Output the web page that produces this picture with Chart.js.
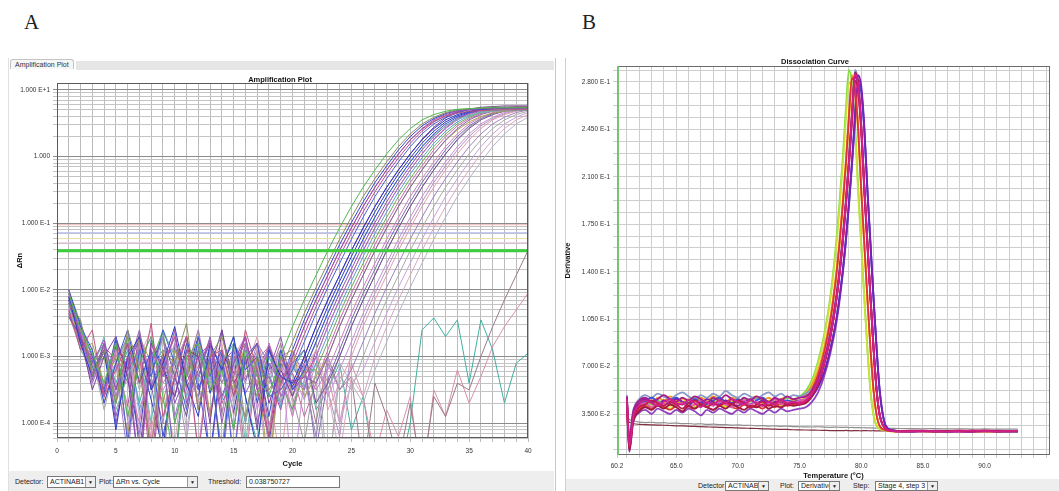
<!DOCTYPE html>
<html>
<head>
<meta charset="utf-8">
<script src="https://cdn.jsdelivr.net/npm/chart.js@4.4.1/dist/chart.umd.min.js"></script>
<style>
  body { margin:0; width:1059px; height:491px; overflow:hidden; background:#fff; position:relative;
         font-family:"Liberation Sans", Arial, sans-serif; }
  .letter { position:absolute; font-family:"Liberation Serif", serif; font-size:21px; line-height:21px; color:#222; }
  .win { position:absolute; background:#fff; }
  .bar { position:absolute; background:#e6e6e6; }
  .tab { position:absolute; font-size:7px; line-height:9px; padding:0 4px; border:1px solid #c4c4c4; border-bottom:none;
         border-radius:3px 3px 0 0; background:#f6f6f6; color:#333; }
  .ptitle { position:absolute; font-size:7.5px; font-weight:bold; line-height:9px; text-align:center; color:#111; }
  .ctl { position:absolute; font-size:7px; line-height:10px; color:#222; white-space:nowrap; }
  .box { position:absolute; border:1px solid #777; background:#fff; font-size:7px; padding-left:2px;
         box-sizing:border-box; white-space:nowrap; overflow:hidden; color:#222; }
  .btn { position:absolute; right:0; top:0; bottom:0; width:9px; border-left:1px solid #999; background:#eee;
         font-size:5px; text-align:center; }
  canvas { position:absolute; }
</style>
</head>
<body>

<div class="letter" style="left:24px;top:12px">A</div>
<div class="letter" style="left:582px;top:12px">B</div>

<!-- window A -->
<div class="win" style="left:8px;top:58px;width:546px;height:433px;border-left:1px solid #e0e0e0;border-right:1px solid #c8c8c8"></div>
<div class="bar" style="left:76px;top:61px;width:478px;height:9px"></div>
<div class="tab" style="left:10px;top:59px">Amplification Plot</div>
<div class="bar" style="left:9px;top:471px;width:545px;height:20px;background:#eeeeee"></div>

<!-- window B -->
<div class="win" style="left:565px;top:58px;width:494px;height:433px;border-left:1px solid #d0d0d0"></div>
<div class="bar" style="left:566px;top:479px;width:493px;height:12px;background:#eeeeee"></div>

<canvas id="ampChart" width="547" height="398" style="left:8px;top:72px"></canvas>
<canvas id="meltChart" width="496" height="424" style="left:563px;top:56px"></canvas>

<div class="ptitle" style="left:230px;top:75px;width:100px">Amplification Plot</div>
<div class="ptitle" style="left:765px;top:57px;width:100px">Dissociation Curve</div>

<!-- controls A -->
<div class="ctl" style="left:15px;top:477px">Detector:</div>
<div class="box" style="left:47px;top:476px;width:49px;height:12px;line-height:10px">ACTINAB1<span class="btn" style="line-height:10px">&#9660;</span></div>
<div class="ctl" style="left:99px;top:477px">Plot:</div>
<div class="box" style="left:113px;top:476px;width:85px;height:12px;line-height:10px">&Delta;Rn vs. Cycle<span class="btn" style="line-height:10px">&#9660;</span></div>
<div class="ctl" style="left:208px;top:477px">Threshold:</div>
<div class="box" style="left:246px;top:476px;width:94px;height:12px;line-height:10px">0.038750727</div>

<!-- controls B -->
<div class="ctl" style="left:698px;top:481px">Detector:</div>
<div class="box" style="left:725px;top:481px;width:44px;height:10px;line-height:8px">ACTINAB1<span class="btn" style="line-height:8px">&#9660;</span></div>
<div class="ctl" style="left:780px;top:481px">Plot:</div>
<div class="box" style="left:798px;top:481px;width:42px;height:10px;line-height:8px">Derivative<span class="btn" style="line-height:8px">&#9660;</span></div>
<div class="ctl" style="left:853px;top:481px">Step:</div>
<div class="box" style="left:875px;top:481px;width:63px;height:10px;line-height:8px">Stage 4, step 3<span class="btn" style="line-height:8px">&#9660;</span></div>

<script>
// ---------- A: amplification plot (log10 of delta Rn per cycle) ----------
const cycles = [1,2,3,4,5,6,7,8,9,10,11,12,13,14,15,16,17,18,19,20,21,22,23,24,25,26,27,28,29,30,31,32,33,34,35,36,37,38,39,40];
const cycleTickLabels = [0, 5, 10, 15, 20, 25, 30, 35, 40];
const ampDecades = [1e-4, 1e-3, 1e-2, 1e-1, 1, 10];
const thresholdValue = 0.038750727;
const otherThresholds = [0.095, 0.072, 0.059, 0.051];

const amp01 = [-2.05,-2.6,-2.95,-3.4,-2.8,-3.9,-3.1,-2.7,-3.6,-4.6,-3.0,-2.8,-3.5,-3.2,-4.1,-2.9,-3.3,-3.6,
  -3.0,-2.55,-2.15,-1.78,-1.41,-1.07,-0.75,-0.46,-0.2,0.04,0.25,0.42,0.55,0.63,0.68,0.71,0.72,0.73,0.74,0.74,0.74,0.74];
const amp02 = [-2.2,-2.45,-3.3,-2.9,-3.7,-2.6,-3.2,-4.4,-2.9,-3.1,-2.5,-3.8,-3.0,-2.7,-3.4,-3.9,-3.0,-3.5,
  -3.2,-2.78,-2.35,-1.96,-1.6,-1.24,-0.91,-0.6,-0.33,-0.08,0.15,0.34,0.49,0.59,0.66,0.7,0.715,0.725,0.73,0.73,0.73,0.73];
const amp03 = [-2.0,-2.7,-3.1,-2.75,-3.5,-3.0,-4.8,-2.9,-3.3,-2.6,-3.7,-3.2,-2.8,-4.0,-3.1,-2.7,-3.5,-3.3,-3.8,
  -3.0,-2.55,-2.15,-1.78,-1.41,-1.07,-0.75,-0.46,-0.2,0.04,0.25,0.42,0.55,0.63,0.68,0.71,0.72,0.73,0.73,0.73,0.73];
const amp04 = [-2.3,-2.9,-2.6,-3.6,-3.2,-2.8,-3.4,-2.5,-3.9,-3.3,-2.7,-4.5,-3.0,-2.9,-3.6,-2.6,-3.2,-4.2,-3.4,
  -3.0,-2.55,-2.15,-1.78,-1.41,-1.07,-0.75,-0.46,-0.2,0.04,0.25,0.41,0.53,0.61,0.65,0.68,0.69,0.7,0.7,0.7,0.7];
const amp05 = [-2.15,-2.5,-3.0,-3.5,-2.7,-4.3,-2.9,-3.3,-2.6,-3.1,-3.8,-2.7,-3.3,-2.9,-4.6,-3.0,-2.8,-3.6,-3.5,
  -3.2,-2.78,-2.35,-1.96,-1.6,-1.24,-0.91,-0.6,-0.33,-0.08,0.15,0.34,0.49,0.59,0.66,0.7,0.715,0.725,0.73,0.73,0.73];
const amp06 = [-2.1,-2.8,-3.3,-2.9,-4.1,-3.0,-2.7,-3.5,-3.1,-2.55,-3.4,-3.9,-2.8,-3.2,-2.7,-3.6,-4.4,-2.9,-3.3,-3.4,
  -3.0,-2.55,-2.15,-1.78,-1.41,-1.07,-0.75,-0.46,-0.2,0.04,0.25,0.42,0.55,0.63,0.68,0.71,0.72,0.73,0.73,0.73];
const amp07 = [-2.4,-2.7,-3.5,-3.0,-2.7,-3.3,-4.7,-2.8,-3.2,-3.6,-2.9,-3.0,-4.0,-2.6,-3.4,-3.1,-2.8,-3.7,-3.2,-3.6,
  -3.0,-2.55,-2.15,-1.78,-1.41,-1.07,-0.75,-0.46,-0.2,0.04,0.26,0.44,0.58,0.66,0.71,0.74,0.75,0.76,0.76,0.76];
const amp08 = [-2.0,-2.55,-2.9,-3.7,-3.1,-2.6,-3.4,-2.9,-4.2,-3.3,-2.7,-3.5,-3.0,-4.6,-2.8,-3.2,-3.0,-3.9,-2.9,-3.5,
  -3.2,-2.78,-2.35,-1.96,-1.6,-1.24,-0.91,-0.6,-0.33,-0.08,0.15,0.34,0.49,0.59,0.66,0.7,0.715,0.725,0.73,0.73];
const amp09 = [-2.25,-2.9,-3.2,-2.7,-3.8,-3.3,-2.9,-4.0,-2.6,-3.0,-3.6,-2.8,-3.4,-3.1,-2.7,-4.3,-3.0,-3.3,-3.7,-3.2,
  -3.2,-2.78,-2.35,-1.96,-1.6,-1.24,-0.91,-0.6,-0.33,-0.08,0.14,0.32,0.46,0.56,0.62,0.66,0.68,0.69,0.69,0.69];
const amp10 = [-2.1,-2.6,-3.4,-2.9,-3.1,-4.5,-2.8,-3.3,-2.7,-3.9,-3.2,-2.6,-3.5,-3.0,-4.1,-2.8,-3.3,-2.9,-3.6,-3.1,-3.5,
  -3.0,-2.55,-2.15,-1.78,-1.41,-1.07,-0.75,-0.46,-0.2,0.04,0.25,0.42,0.55,0.63,0.68,0.71,0.72,0.73,0.73];
const amp11 = [-2.35,-2.8,-3.0,-3.6,-2.8,-3.2,-2.9,-4.8,-3.1,-2.7,-3.4,-3.0,-2.8,-3.7,-3.3,-2.7,-3.5,-4.2,-3.0,-3.4,-3.3,
  -3.0,-2.55,-2.15,-1.78,-1.41,-1.07,-0.75,-0.46,-0.2,0.04,0.26,0.43,0.57,0.65,0.7,0.73,0.74,0.75,0.75];
const amp12 = [-2.0,-2.5,-3.2,-3.0,-3.7,-2.7,-3.4,-3.1,-2.6,-4.0,-3.3,-2.9,-3.2,-4.4,-2.8,-3.1,-3.6,-2.9,-3.4,-3.8,-3.2,
  -3.2,-2.78,-2.35,-1.96,-1.6,-1.24,-0.91,-0.6,-0.33,-0.08,0.15,0.34,0.49,0.59,0.66,0.7,0.715,0.725,0.73];
const amp13 = [-2.2,-2.7,-3.3,-2.8,-3.9,-3.2,-2.6,-3.5,-3.0,-4.6,-2.9,-3.3,-2.7,-3.6,-3.1,-2.8,-4.0,-3.2,-2.7,-3.5,-3.3,-3.4,
  -3.0,-2.55,-2.15,-1.78,-1.41,-1.07,-0.75,-0.46,-0.2,0.04,0.25,0.42,0.55,0.63,0.68,0.71,0.72,0.73];
const amp14 = [-2.1,-2.9,-2.8,-3.4,-3.0,-4.2,-2.7,-3.1,-3.7,-2.9,-3.3,-2.6,-3.9,-3.0,-3.5,-2.8,-3.2,-4.7,-3.0,-2.9,-3.6,-3.3,
  -3.0,-2.55,-2.15,-1.78,-1.41,-1.07,-0.75,-0.46,-0.2,0.04,0.24,0.4,0.52,0.6,0.65,0.68,0.69,0.7];
const amp15 = [-2.3,-2.6,-3.1,-3.6,-2.9,-3.3,-4.0,-2.8,-3.4,-3.1,-2.7,-3.8,-3.2,-2.9,-4.5,-3.0,-3.4,-2.8,-3.3,-3.9,-3.1,-3.5,
  -3.2,-2.78,-2.35,-1.96,-1.6,-1.24,-0.91,-0.6,-0.33,-0.08,0.15,0.34,0.49,0.59,0.66,0.7,0.715,0.725];
const amp16 = [-2.15,-2.7,-3.2,-2.9,-3.5,-2.8,-4.4,-3.1,-2.7,-3.3,-3.9,-2.9,-3.2,-2.6,-3.6,-3.0,-4.1,-2.8,-3.4,-3.1,-2.9,-3.7,-3.4,
  -3.0,-2.55,-2.15,-1.78,-1.41,-1.07,-0.75,-0.46,-0.2,0.04,0.25,0.42,0.55,0.63,0.68,0.71,0.72];
const amp17 = [-2.4,-2.8,-3.0,-3.7,-3.1,-2.7,-3.4,-3.0,-4.6,-2.9,-3.3,-2.8,-3.5,-3.2,-2.7,-4.0,-3.1,-3.4,-2.9,-3.6,-4.3,-3.2,-3.5,
  -3.0,-2.55,-2.15,-1.78,-1.41,-1.07,-0.75,-0.46,-0.2,0.04,0.26,0.44,0.57,0.66,0.71,0.74,0.75];
const amp18 = [-2.05,-2.6,-3.3,-3.0,-3.4,-4.1,-2.8,-3.2,-2.7,-3.6,-3.0,-4.4,-2.9,-3.3,-3.1,-2.7,-3.8,-3.2,-2.9,-4.9,-3.3,-3.0,-3.6,
  -3.2,-2.78,-2.35,-1.96,-1.6,-1.24,-0.91,-0.6,-0.33,-0.08,0.15,0.34,0.49,0.59,0.66,0.7,0.715];
const amp19 = [-2.3,-2.7,-3.1,-3.5,-2.8,-3.3,-3.0,-4.3,-2.9,-3.4,-2.7,-3.7,-3.1,-2.8,-3.9,-3.2,-2.7,-3.5,-4.6,-3.0,-3.3,-2.9,-3.8,-3.4,
  -3.0,-2.55,-2.15,-1.78,-1.41,-1.07,-0.75,-0.46,-0.2,0.04,0.25,0.42,0.55,0.63,0.68,0.71];
const amp20 = [-2.1,-2.8,-3.4,-2.9,-3.6,-3.1,-2.7,-3.3,-4.0,-2.8,-3.2,-3.5,-2.9,-4.7,-3.0,-3.4,-2.8,-3.1,-3.7,-2.9,-3.3,-4.2,-3.1,-3.5,
  -3.2,-2.78,-2.35,-1.96,-1.6,-1.24,-0.91,-0.6,-0.33,-0.08,0.15,0.34,0.49,0.59,0.66,0.7];
const amp21 = [-2.2,-2.6,-3.0,-3.8,-3.1,-2.8,-3.5,-2.9,-4.5,-3.2,-2.7,-3.4,-3.0,-3.9,-2.8,-3.3,-3.1,-4.1,-2.9,-3.6,-3.2,-2.8,-4.8,-3.3,-3.5,
  -3.0,-2.55,-2.15,-1.78,-1.41,-1.07,-0.75,-0.46,-0.2,0.04,0.25,0.42,0.55,0.63,0.68];
const amp22 = [-2.35,-2.9,-3.2,-3.0,-3.6,-2.7,-4.2,-3.1,-2.9,-3.4,-3.7,-2.8,-3.2,-4.4,-3.0,-2.7,-3.5,-3.3,-2.9,-3.9,-3.1,-3.4,-3.0,-4.0,-3.4,
  -3.2,-2.78,-2.35,-1.96,-1.6,-1.24,-0.91,-0.6,-0.33,-0.08,0.15,0.34,0.49,0.59,0.66];
const amp23 = [-2.0,-2.7,-3.1,-3.4,-2.9,-3.8,-3.0,-2.6,-3.5,-4.3,-2.9,-3.2,-2.8,-3.6,-3.1,-4.6,-2.8,-3.3,-3.0,-3.7,-3.2,-2.9,-3.5,-4.5,-3.3,-3.6,
  -3.0,-2.55,-2.15,-1.78,-1.41,-1.07,-0.75,-0.46,-0.2,0.04,0.25,0.42,0.55,0.63];
const amp24 = [-2.25,-2.8,-2.9,-3.5,-3.2,-2.7,-3.9,-3.1,-3.3,-2.8,-4.1,-3.0,-3.4,-2.9,-3.7,-3.1,-2.8,-4.4,-3.2,-3.0,-3.6,-3.3,-4.9,-3.1,-3.4,-3.7,
  -3.2,-2.78,-2.35,-1.96,-1.6,-1.24,-0.91,-0.6,-0.33,-0.08,0.15,0.34,0.49,0.59];
const amp25 = [-2.15,-2.75,-3.05,-3.5,-2.85,-3.3,-4.2,-2.75,-3.15,-3.6,-2.8,-3.4,-4.5,-2.95,-3.25,-2.7,-3.7,-3.1,-3.4,
  -2.9,-2.45,-2.05,-1.69,-1.32,-0.99,-0.68,-0.39,-0.14,0.1,0.3,0.46,0.57,0.645,0.69,0.713,0.722,0.73,0.73,0.73,0.73];
const amp26 = [-2.25,-2.55,-3.25,-2.85,-3.05,-3.75,-2.65,-4.6,-3.05,-2.85,-3.45,-3.15,-2.75,-3.85,-3.0,-3.35,-2.9,-4.05,-3.3,
  -3.1,-2.67,-2.25,-1.87,-1.5,-1.15,-0.83,-0.53,-0.26,-0.02,0.2,0.38,0.52,0.61,0.67,0.705,0.718,0.728,0.73,0.73,0.73];
const amp27 = [-2.05,-2.65,-3.15,-3.55,-2.75,-3.2,-2.95,-3.65,-4.4,-2.85,-3.3,-2.7,-3.55,-3.05,-3.85,-2.8,-3.2,-4.3,-3.1,-3.45,
  -3.1,-2.67,-2.25,-1.87,-1.5,-1.15,-0.83,-0.53,-0.26,-0.02,0.2,0.38,0.52,0.61,0.67,0.705,0.718,0.728,0.73,0.73];
const amp28 = [-2.3,-2.6,-3.35,-2.8,-4.0,-3.15,-2.75,-3.45,-2.95,-3.7,-3.25,-2.8,-4.55,-3.1,-2.9,-3.55,-3.2,-2.85,-3.6,-3.35,-3.5,
  -2.9,-2.45,-2.05,-1.69,-1.32,-0.99,-0.68,-0.39,-0.14,0.1,0.3,0.46,0.57,0.645,0.69,0.713,0.722,0.73,0.73];
const amp29 = [-2.1,-2.85,-2.95,-3.45,-3.1,-2.7,-3.8,-3.2,-2.9,-4.7,-3.0,-3.35,-2.75,-3.65,-3.1,-4.0,-2.95,-3.25,-3.75,-3.15,-3.45,
  -3.1,-2.67,-2.25,-1.87,-1.5,-1.15,-0.83,-0.53,-0.26,-0.02,0.2,0.38,0.52,0.61,0.67,0.705,0.718,0.728,0.73];
const amp30 = [-2.2,-2.7,-3.05,-3.6,-2.95,-3.4,-2.8,-4.3,-3.15,-2.7,-3.5,-3.0,-3.85,-2.9,-3.3,-4.6,-3.05,-2.85,-3.5,-3.25,-3.9,-3.4,
  -2.9,-2.45,-2.05,-1.69,-1.32,-0.99,-0.68,-0.39,-0.14,0.1,0.3,0.46,0.57,0.645,0.69,0.713,0.722,0.73];
const amp31 = [-2.35,-2.6,-3.2,-2.95,-3.7,-3.05,-2.75,-3.4,-4.5,-2.9,-3.25,-3.6,-2.8,-3.15,-4.1,-3.0,-3.45,-2.85,-3.3,-3.8,-3.1,-4.4,-3.35,
  -2.9,-2.45,-2.05,-1.69,-1.32,-0.99,-0.68,-0.39,-0.14,0.1,0.3,0.46,0.57,0.645,0.69,0.713,0.722];
const amp32 = [-2.1,-2.75,-3.1,-3.45,-2.85,-3.95,-3.05,-2.7,-3.5,-3.2,-4.25,-2.9,-3.35,-3.05,-3.7,-2.8,-3.4,-4.8,-3.0,-3.25,-3.65,-3.1,-3.5,-4.2,
  -2.9,-2.45,-2.05,-1.69,-1.32,-0.99,-0.68,-0.39,-0.14,0.1,0.3,0.46,0.57,0.645,0.69,0.713];
const ampLate1 = [-2.1,-2.7,-3.2,-2.9,-3.6,-3.0,-4.2,-2.8,-3.3,-3.1,-2.7,-3.8,-3.0,-3.4,-2.9,-4.5,-3.1,-3.3,-2.8,-3.6,
  -3.2,-4.0,-3.0,-3.5,-3.3,-4.7,-3.4,-3.9,-4.6,-3.7,-4.8,-3.6,-3.9,-3.4,-3.5,-3.0,-2.55,-2.15,-1.78,-1.41];
const ampLate2 = [-2.3,-2.6,-3.0,-3.5,-2.8,-3.3,-2.9,-4.1,-3.2,-2.7,-3.6,-3.0,-3.9,-2.9,-3.4,-3.1,-2.8,-4.4,-3.2,-3.5,
  -3.0,-3.7,-3.3,-4.0,-3.1,-3.6,-4.5,-3.8,-4.2,-3.6,-4.9,-3.5,-3.9,-3.2,-3.7,-3.3,-2.85,-2.55,-2.3,-2.05];
const ampTeal = [-2.2,-2.6,-3.1,-2.8,-3.4,-2.9,-3.7,-3.0,-2.7,-4.0,-3.2,-2.9,-3.5,-3.1,-2.8,-3.6,-4.3,-3.0,-3.4,-3.2,
  -2.9,-3.8,-3.5,-3.1,-4.1,-3.6,-4.7,-4.4,-4.8,-4.0,-2.6,-2.42,-2.7,-2.45,-3.4,-2.45,-2.9,-3.7,-3.1,-2.95];

const ampSeries = [amp01,amp02,amp03,amp04,amp05,amp06,amp07,amp08,amp09,amp10,amp11,amp12,
                   amp13,amp14,amp15,amp16,amp17,amp18,amp19,amp20,amp21,amp22,amp23,amp24,
                   amp25,amp26,amp27,amp28,amp29,amp30,amp31,amp32,ampLate1,ampLate2,ampTeal];
const ampColors = ['#4fb84f','#8c8c5a','#9b4fb5','#c2547f','#4a5fd0','#2a36c8','#7a3d9e','#3b4bd8','#6fb8b0',
                   '#a678c8','#c0509a','#6aaa5a','#8e5cb0','#a8a050','#d07cc0','#6e4e9e','#9a9a9a','#c48ed6',
                   '#e09cb0','#9e80c0','#aaaaaa','#c8a0d8','#d8a8c0','#b4b4c8',
                   '#3344cc','#b04ca0','#2c3ab8','#8850b8','#5a9ad0','#c86aa8','#7a6ab0','#b890c0',
                   '#9a7a8a','#d890a8','#40b0a0'];
const otherThresholdColors = ['#f2b4b4','#b4bcf2','#e8e0a4','#f0c4e2'];

// ---------- B: dissociation curves (derivative vs temperature) ----------
const meltTemps = [61.0,61.2,61.5,62,62.5,63,63.5,64,64.5,65,65.5,66,66.5,67,67.5,68,68.5,69,69.5,70,70.5,71,71.5,72,72.5,73,73.5,74,74.5,75,
  75.5,76,76.5,77,77.5,78,78.25,78.5,78.75,79,79.25,79.5,79.75,80,80.25,80.5,80.75,81,81.25,81.5,82,82.5,83,84,85,86,87,88,89,90,91,92,92.7];
const meltTempLabels = [65, 70, 75, 80, 85, 90];
const derivStep = 0.00875;

const melt01 = [0.046,0.014,0.034, 0.041,0.044,0.042,0.045,0.043,0.046,0.044,0.042,0.045,0.047,0.044,0.043,0.046,0.044,0.042,0.045,0.043,0.046,0.044,0.047,0.045,0.043,0.046,0.044,0.047,0.046,0.048,
  0.052,0.06,0.074,0.094,0.122,0.165, 0.193,0.224,0.26,0.289,0.279,0.248,0.202,0.161,0.121,0.083,0.052,0.034,0.026,0.024,
  0.023,0.0225,0.022, 0.022,0.0225,0.022,0.0215,0.022,0.0225,0.022,0.0218,0.022, 0.0222];
const melt02 = [0.044,0.010,0.031, 0.039,0.042,0.040,0.043,0.041,0.039,0.042,0.044,0.041,0.040,0.043,0.041,0.044,0.042,0.040,0.043,0.041,0.044,0.042,0.040,0.043,0.042,0.044,0.041,0.043,0.045,0.044,
  0.049,0.058,0.072,0.092,0.12,0.161, 0.188,0.218,0.252,0.28,0.272,0.243,0.198,0.158,0.119,0.082,0.052,0.034,0.026,0.024,
  0.0228,0.0222,0.022, 0.0222,0.0218,0.0225,0.022,0.0215,0.022,0.0224,0.022,0.0218, 0.022];
const melt03 = [0.045,0.012,0.033, 0.040,0.043,0.045,0.042,0.044,0.041,0.043,0.046,0.043,0.041,0.044,0.042,0.045,0.043,0.041,0.044,0.046,0.043,0.041,0.044,0.042,0.045,0.043,0.041,0.044,0.043,0.045,
  0.047,0.054,0.065,0.082,0.104,0.138, 0.16,0.187,0.216,0.25,0.278,0.27,0.241,0.197,0.158,0.119,0.082,0.052,0.034,0.026,
  0.023,0.022,0.022, 0.0222,0.022,0.0218,0.0224,0.022,0.0216,0.0222,0.022,0.0224, 0.022];
const melt04 = [0.047,0.016,0.035, 0.044,0.046,0.043,0.047,0.045,0.048,0.045,0.043,0.046,0.044,0.047,0.045,0.048,0.046,0.044,0.047,0.045,0.043,0.046,0.048,0.045,0.047,0.044,0.046,0.048,0.045,0.047,
  0.05,0.056,0.067,0.084,0.107,0.142, 0.165,0.192,0.222,0.257,0.285,0.277,0.247,0.201,0.161,0.12,0.083,0.052,0.034,0.026,
  0.0232,0.0224,0.022, 0.022,0.0225,0.0222,0.0218,0.0224,0.022,0.0226,0.0221,0.022, 0.0223];
const melt05 = [0.043,0.009,0.030, 0.038,0.041,0.039,0.042,0.040,0.038,0.041,0.043,0.040,0.039,0.042,0.040,0.038,0.041,0.043,0.040,0.039,0.042,0.040,0.041,0.039,0.042,0.040,0.043,0.041,0.042,0.044,
  0.046,0.053,0.064,0.081,0.104,0.139, 0.162,0.189,0.219,0.254,0.283,0.275,0.245,0.2,0.16,0.12,0.083,0.052,0.034,0.026,
  0.023,0.0225,0.0222, 0.0226,0.0222,0.022,0.0225,0.0228,0.0222,0.022,0.0225,0.0223, 0.0225];
const melt06 = [0.046,0.011,0.032, 0.042,0.045,0.043,0.041,0.044,0.046,0.043,0.042,0.045,0.043,0.040,0.044,0.042,0.045,0.043,0.046,0.044,0.042,0.045,0.043,0.041,0.044,0.042,0.045,0.043,0.044,0.043,
  0.045,0.05,0.059,0.073,0.093,0.121, 0.14,0.163,0.19,0.221,0.256,0.286,0.278,0.247,0.202,0.161,0.121,0.083,0.052,0.034,
  0.024,0.0226,0.0222, 0.0222,0.0226,0.0224,0.022,0.0225,0.0228,0.0223,0.0221,0.0226, 0.0224];
const melt07 = [0.044,0.013,0.031, 0.040,0.042,0.045,0.043,0.041,0.044,0.042,0.039,0.043,0.045,0.042,0.040,0.043,0.041,0.044,0.042,0.045,0.043,0.040,0.042,0.044,0.041,0.043,0.045,0.042,0.043,0.042,
  0.044,0.049,0.058,0.072,0.092,0.12, 0.139,0.161,0.188,0.218,0.252,0.281,0.273,0.244,0.199,0.159,0.12,0.083,0.052,0.034,
  0.0242,0.0228,0.0224, 0.0228,0.0224,0.0226,0.0222,0.0227,0.0224,0.0229,0.0225,0.0223, 0.0226];
const melt08 = [0.048,0.015,0.036, 0.045,0.047,0.044,0.046,0.049,0.046,0.044,0.047,0.045,0.048,0.046,0.043,0.047,0.045,0.049,0.046,0.044,0.047,0.045,0.048,0.046,0.044,0.047,0.045,0.048,0.046,0.047,
  0.048,0.052,0.061,0.075,0.095,0.123, 0.142,0.165,0.191,0.221,0.255,0.284,0.276,0.246,0.201,0.161,0.121,0.083,0.052,0.034,
  0.024,0.0225,0.0222, 0.022,0.0224,0.0221,0.0226,0.0222,0.0219,0.0224,0.0222,0.022, 0.0222];
const melt09 = [0.045,0.010,0.032, 0.041,0.043,0.040,0.044,0.042,0.045,0.041,0.043,0.040,0.042,0.045,0.043,0.041,0.044,0.042,0.040,0.043,0.045,0.042,0.044,0.041,0.043,0.046,0.042,0.044,0.043,0.045,
  0.046,0.05,0.058,0.072,0.092,0.12, 0.139,0.161,0.187,0.217,0.251,0.279,0.272,0.243,0.199,0.159,0.12,0.083,0.052,0.034,
  0.0238,0.0224,0.022, 0.0224,0.0221,0.0225,0.0223,0.0219,0.0224,0.0222,0.0226,0.0221, 0.0223];
const melt10 = [0.043,0.008,0.029, 0.037,0.040,0.038,0.041,0.039,0.042,0.040,0.037,0.041,0.039,0.042,0.040,0.038,0.041,0.039,0.042,0.040,0.038,0.041,0.040,0.042,0.039,0.041,0.040,0.042,0.041,0.042,
  0.043,0.048,0.057,0.072,0.092,0.121, 0.14,0.163,0.19,0.221,0.257,0.287,0.279,0.248,0.203,0.162,0.121,0.083,0.052,0.034,
  0.024,0.0226,0.0223, 0.0225,0.0228,0.0224,0.0226,0.0223,0.0227,0.0225,0.0222,0.0226, 0.0224];
const melt11 = [0.047,0.014,0.034, 0.043,0.046,0.044,0.042,0.045,0.043,0.046,0.044,0.041,0.045,0.043,0.046,0.044,0.042,0.045,0.043,0.041,0.044,0.046,0.043,0.045,0.042,0.044,0.046,0.043,0.044,0.043,
  0.044,0.048,0.055,0.066,0.083,0.106, 0.122,0.141,0.164,0.191,0.222,0.257,0.285,0.277,0.247,0.201,0.161,0.12,0.083,0.052,
  0.026,0.023,0.0222, 0.0222,0.0225,0.0221,0.0224,0.022,0.0223,0.0226,0.0221,0.0224, 0.0222];
const melt12 = [0.046,0.012,0.033, 0.042,0.044,0.047,0.044,0.042,0.045,0.047,0.044,0.043,0.046,0.044,0.042,0.045,0.047,0.044,0.043,0.046,0.044,0.042,0.045,0.047,0.044,0.046,0.043,0.045,0.044,0.045,
  0.045,0.048,0.055,0.066,0.083,0.106, 0.122,0.14,0.163,0.19,0.22,0.254,0.282,0.274,0.245,0.2,0.16,0.12,0.083,0.052,
  0.026,0.0232,0.0223, 0.0221,0.0224,0.0222,0.0219,0.0223,0.0221,0.0225,0.0222,0.022, 0.0221];
const melt13 = [0.042,0.007,0.028, 0.036,0.038,0.035,0.039,0.037,0.035,0.038,0.036,0.039,0.037,0.034,0.038,0.036,0.039,0.037,0.035,0.038,0.036,0.039,0.037,0.035,0.038,0.036,0.039,0.037,0.038,0.039,
  0.04,0.044,0.051,0.063,0.08,0.103, 0.119,0.138,0.161,0.188,0.218,0.251,0.279,0.272,0.243,0.199,0.159,0.119,0.082,0.051,
  0.026,0.0232,0.0224, 0.0226,0.0223,0.0227,0.0224,0.0221,0.0226,0.0224,0.0228,0.0223, 0.0225];
const melt14 = [0.049,0.017,0.037, 0.046,0.049,0.047,0.050,0.048,0.046,0.049,0.051,0.048,0.046,0.049,0.047,0.050,0.048,0.052,0.049,0.047,0.050,0.048,0.046,0.049,0.051,0.048,0.050,0.047,0.049,0.048,
  0.05,0.054,0.062,0.076,0.096,0.124, 0.143,0.166,0.193,0.224,0.259,0.289,0.28,0.249,0.203,0.162,0.121,0.083,0.052,0.034,
  0.024,0.0225,0.0222, 0.0222,0.022,0.0224,0.0221,0.0223,0.022,0.0222,0.0225,0.0221, 0.0222];
const meltNeg1 = [0.030,0.029,0.028, 0.0274,0.0272,0.0270,0.0268,0.0267,0.0265,0.0263,0.0262,0.0260,0.0258,0.0257,0.0255,0.0253,0.0252,0.0250,0.0249,0.0247,0.0246,0.0244,0.0243,0.0241,0.0240,0.0238,0.0237,0.0236,0.0234,0.0233,
  0.0232,0.0231,0.023,0.0229,0.0228,0.0228, 0.0228,0.0227,0.0229,0.0227,0.0226,0.0228,0.0227,0.0226,0.0228,0.0227,0.0226,0.0227,0.0225,0.0226,
  0.0225,0.0226,0.0224, 0.0224,0.0223,0.0225,0.0223,0.0222,0.0224,0.0223,0.0222,0.0223, 0.0222];
const meltNeg2 = [0.033,0.031,0.030, 0.0290,0.0287,0.0289,0.0284,0.0286,0.0281,0.0283,0.0279,0.0280,0.0276,0.0278,0.0273,0.0275,0.0271,0.0272,0.0268,0.0270,0.0266,0.0267,0.0263,0.0265,0.0261,0.0262,0.0259,0.0260,0.0257,0.0256,
  0.0255,0.0254,0.0256,0.0253,0.0252,0.0253, 0.0252,0.0251,0.0253,0.025,0.0251,0.0249,0.025,0.0248,0.0249,0.0247,0.0248,0.0246,0.0247,0.0245,
  0.0245,0.0244,0.0243, 0.0242,0.0241,0.0242,0.024,0.0241,0.0239,0.024,0.0239,0.0238, 0.0238];

// first in list is drawn on top: magenta/red wells dominate, green/yellow wells sit beneath
const meltSeries = [melt06,melt07,melt10,melt08,melt09,melt05,melt11,melt12,melt13,melt14,melt04,melt03,melt02,melt01,meltNeg1,meltNeg2];
const meltColors = ['#d0208c','#c01850','#a01840','#a81c8c','#e058b4','#e03434','#7c20b0','#3c50d0','#9040c0','#8898c8',
                    '#f09a28','#f0d028','#c8e03c','#7fdc3c','#803040','#909090'];

// ---------- helpers ----------
const tickFont = { family: 'Liberation Sans', size: 6.5 };
const titleFont = { family: 'Liberation Sans', size: 7.5, weight: 'bold' };

function isDecade(v) {
  const l = Math.log10(v);
  return Math.abs(l - Math.round(l)) < 1e-6;
}
function fmtDecade(v) {
  const e = Math.round(Math.log10(v));
  if (e === 0) return '1.000';
  return '1.000 E' + (e > 0 ? '+' + e : e);
}
function fmtSci(v) {
  const e = Math.floor(Math.log10(v) + 1e-9);
  const m = v / Math.pow(10, e);
  return m.toFixed(3) + ' E' + (e < 0 ? e : '+' + e);
}

// plot frame (and the green left edge of the dissociation plot)
const framePlugin = {
  id: 'frame',
  afterDraw(chart, args, opts) {
    const { ctx, chartArea: a } = chart;
    ctx.save();
    ctx.strokeStyle = opts.color || '#555';
    ctx.lineWidth = 1;
    ctx.strokeRect(a.left + 0.5, a.top + 0.5, a.right - a.left - 1, a.bottom - a.top - 1);
    if (opts.leftColor) {
      ctx.strokeStyle = opts.leftColor;
      ctx.lineWidth = 2;
      ctx.beginPath();
      ctx.moveTo(a.left + 1, a.top);
      ctx.lineTo(a.left + 1, a.bottom);
      ctx.stroke();
    }
    ctx.restore();
  }
};

// ---------- chart A ----------
let ampDatasets = [];
ampDatasets.push({
  data: [{ x: 0, y: thresholdValue }, { x: 40, y: thresholdValue }],
  borderColor: '#3ccc3c', borderWidth: 3
});
ampSeries.forEach((s, i) => {
  ampDatasets.push({
    data: s.map((v, j) => ({ x: cycles[j], y: Math.pow(10, v) })),
    borderColor: ampColors[i], borderWidth: 1
  });
});
otherThresholds.forEach((t, i) => {
  ampDatasets.push({
    data: [{ x: 0, y: t }, { x: 40, y: t }],
    borderColor: otherThresholdColors[i], borderWidth: 1
  });
});

new Chart(document.getElementById('ampChart'), {
  type: 'line',
  data: { datasets: ampDatasets },
  options: {
    responsive: false, animation: false, devicePixelRatio: 1,
    layout: { padding: { top: 11, right: 27, left: 0, bottom: 0 } },
    elements: { point: { radius: 0 }, line: { tension: 0 } },
    plugins: { legend: { display: false }, tooltip: { enabled: false }, frame: { color: '#5a5a5a' } },
    scales: {
      x: {
        type: 'linear', min: 0, max: 40,
        afterBuildTicks: s => {
          let t = [];
          for (let c = 0; c <= 40; c++) t.push({ value: c });
          s.ticks = t;
        },
        afterFit: s => { s.height = 32; },
        ticks: { autoSkip: false, maxRotation: 0, padding: 5, font: tickFont, color: '#333',
                 callback: v => cycleTickLabels.includes(v) ? String(v) : '' },
        grid: { color: '#bcbcbc', tickLength: 4 },
        border: { display: false },
        title: { display: true, text: 'Cycle', font: titleFont, color: '#111', padding: { top: 0, bottom: 2 } }
      },
      y: {
        type: 'logarithmic', min: 6e-5, max: 12.7,
        afterBuildTicks: s => {
          let t = [];
          for (let k = -5; k <= 1; k++) {
            for (let m = 1; m <= 9; m++) {
              const v = m * Math.pow(10, k);
              if (v >= 6e-5 && v <= 12.7) t.push({ value: v });
            }
          }
          s.ticks = t;
        },
        afterFit: s => { s.width = 49; },
        ticks: { autoSkip: false, padding: 3, font: tickFont, color: '#333',
                 callback: v => (isDecade(v) && ampDecades.some(d => Math.abs(d - v) / d < 1e-6)) ? fmtDecade(v) : '' },
        grid: { color: c => (c.tick && isDecade(c.tick.value)) ? '#8c8c8c' : '#c4c4c4', tickLength: 4 },
        border: { display: false },
        title: { display: true, text: '\u0394Rn', font: titleFont, color: '#111', padding: { top: 7, bottom: 0 } }
      }
    }
  },
  plugins: [framePlugin]
});

// ---------- chart B ----------
const meltMin = 60.2, meltMax = 95.3;
let meltDatasets = meltSeries.map((s, i) => ({
  data: s.map((v, j) => ({ x: meltTemps[j], y: v })),
  borderColor: meltColors[i],
  borderWidth: i >= meltSeries.length - 2 ? 1.2 : 1.8,
  cubicInterpolationMode: 'monotone'
}));

new Chart(document.getElementById('meltChart'), {
  type: 'line',
  data: { datasets: meltDatasets },
  options: {
    responsive: false, animation: false, devicePixelRatio: 1,
    layout: { padding: { top: 10, right: 9, left: 0, bottom: 0 } },
    elements: { point: { radius: 0 } },
    plugins: { legend: { display: false }, tooltip: { enabled: false }, frame: { color: '#6a6a6a', leftColor: '#74c474' } },
    scales: {
      x: {
        type: 'linear', min: meltMin, max: meltMax,
        afterBuildTicks: s => {
          let t = [{ value: meltMin }];
          for (let v = 61; v <= 95; v++) t.push({ value: v });
          s.ticks = t;
        },
        afterFit: s => { s.height = 25; },
        ticks: { autoSkip: false, maxRotation: 0, padding: 4, font: tickFont, color: '#333',
                 callback: v => meltTempLabels.includes(v) ? v.toFixed(1) : (v === meltMin ? meltMin.toFixed(1) : '') },
        grid: { color: '#cdcdcd', tickLength: 3 },
        border: { display: false },
        title: { display: true, text: 'Temperature (\u00B0C)', font: titleFont, color: '#111', padding: { top: 0, bottom: 0 } }
      },
      y: {
        type: 'linear', min: 0.00475, max: 0.2918,
        afterBuildTicks: s => {
          let t = [];
          for (let k = 1; k <= 33; k++) t.push({ value: k * derivStep });
          s.ticks = t;
        },
        afterFit: s => { s.width = 54; },
        ticks: { autoSkip: false, padding: 3, font: tickFont, color: '#333',
                 callback: v => (Math.round(v / derivStep) % 4 === 0) ? fmtSci(v) : '' },
        grid: { color: '#cdcdcd', tickLength: 4 },
        border: { display: false },
        title: { display: true, text: 'Derivative', font: titleFont, color: '#111', padding: { top: 0, bottom: 0 } }
      }
    }
  },
  plugins: [framePlugin]
});
</script>
</body>
</html>
